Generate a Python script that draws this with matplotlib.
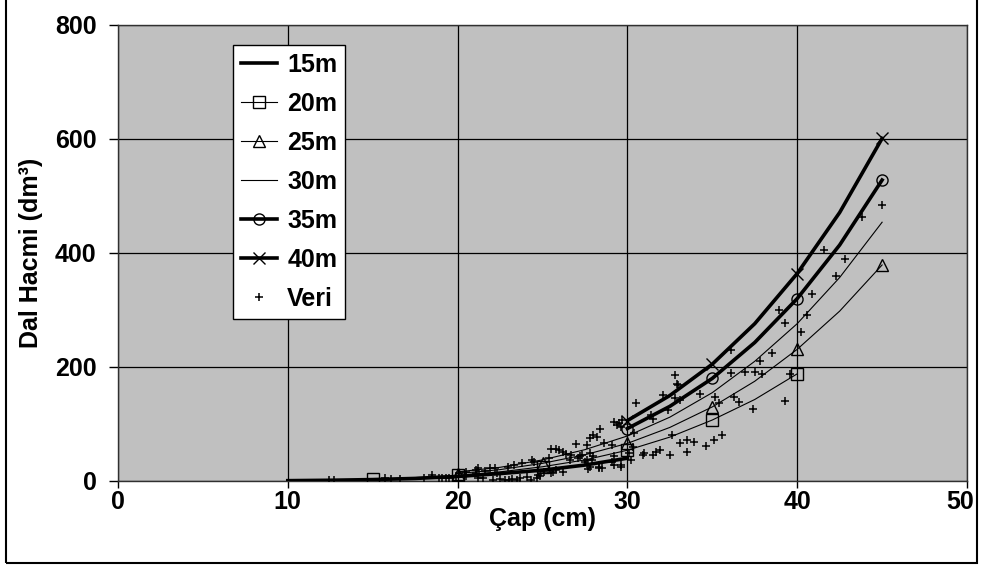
import matplotlib
matplotlib.use("Agg")
import matplotlib.pyplot as plt
from matplotlib.patches import Rectangle
from matplotlib.transforms import ScaledTranslation

plt.rcParams['font.family'] = ['Liberation Sans', 'DejaVu Sans']
plt.rcParams['font.weight'] = 'bold'

# Height curves (diameter cm -> branch volume dm3)
x_15 = [10, 12.5, 15, 17.5, 20, 22.5, 25, 27.5, 30]
y_15 = [0.6, 1.3, 2.5, 4.5, 8, 13, 19, 28, 40]

x_20 = [15, 17.5, 20, 22.5, 25, 27.5, 30, 32.5, 35, 37.5, 40]
y_20 = [3, 6, 10, 16, 25, 37, 54, 77, 107, 143, 188]

x_25 = [20, 22.5, 25, 27.5, 30, 32.5, 35, 37.5, 40, 42.5, 45]
y_25 = [13, 20, 31, 46, 66, 94, 130, 175, 231, 298, 379]

x_30 = [20, 22.5, 25, 27.5, 30, 32.5, 35, 37.5, 40, 42.5, 45]
y_30 = [16, 24, 37, 55, 79, 112, 155, 210, 276, 357, 454]

x_35 = [30, 32.5, 35, 37.5, 40, 42.5, 45]
y_35 = [92, 131, 180, 243, 320, 414, 528]

x_40 = [30, 32.5, 35, 37.5, 40, 42.5, 45]
y_40 = [106, 150, 205, 276, 364, 471, 601]

# Observed data ("Veri")
veri_x = [12.4, 12.7, 15.7, 16.1, 16.6, 18.0, 18.5, 18.9, 19.1, 19.3, 19.5, 19.9,
          20.1, 20.5, 20.5, 21.1, 21.1, 21.2, 21.2, 21.5, 21.6, 21.9, 22.1, 22.2,
          22.3, 22.5, 22.8, 22.95, 23.0, 23.2, 23.3, 23.5, 23.7, 23.8, 24.1, 24.3,
          24.4, 24.5, 24.7, 24.75, 24.85, 25.1, 25.4, 25.4, 25.5, 25.5, 25.6, 25.8,
          25.8, 26.0, 26.2, 26.2, 26.4, 26.6, 26.7, 27.0, 27.1, 27.2, 27.3, 27.5,
          27.6, 27.6, 27.7, 27.8, 27.8, 27.8, 27.9, 28.0, 28.0, 28.2, 28.3, 28.3,
          28.4, 28.5, 28.6, 29.1, 29.1, 29.2, 29.2, 29.2, 29.4, 29.5, 29.6, 29.6,
          29.7, 29.65, 30.2, 30.1, 30.35, 30.4, 30.5, 30.9, 31.0, 31.4, 31.5, 31.5,
          31.7, 31.9, 32.1, 32.4, 32.5, 32.6, 32.8, 32.8, 32.9, 33.0, 33.1, 33.1,
          33.5, 33.5, 33.9, 34.3, 34.6, 35.1, 35.55, 35.15, 35.4, 36.3, 36.6, 37.4,
          36.1, 36.1, 36.9, 37.5, 37.9, 37.8, 38.5, 38.9, 39.3, 39.3, 39.6, 40.2,
          40.6, 40.9, 41.6, 42.3, 42.8, 43.8, 45.0]
veri_y = [1.5, 1.5, 4.7, 3.5, 3.5, 4.7, 10.5, 6, 6, 6, 6, 7.5,
          13.5, 16, 8.8, 20, 13.5, 22, 5, 5, 18, 22, 2, 22,
          14.6, 3, 2, 24, 2, 3, 28, 2, 5, 31, 7.5, 2,
          37, 34, 5, 10.5, 9, 16, 19, 40, 13.5, 57, 16, 19,
          57, 54, 51, 16, 48, 37, 46, 65, 40, 43, 46, 34,
          37, 63, 20.5, 49, 75, 25, 37, 43, 81, 78, 25, 22,
          92, 22, 66, 63, 34, 104, 28, 43, 98, 101, 95, 28,
          107, 25, 37, 49, 60, 84, 137, 46, 49, 116, 108, 46,
          51, 54, 151, 125, 46, 81, 186, 145, 171, 168, 142, 66,
          72, 51, 69, 152, 62, 72, 81, 147, 136, 148, 138, 126,
          230, 190, 192, 192, 188, 210, 224, 300, 278, 141, 188, 261,
          292, 328, 406, 359, 390, 463, 484]

fig = plt.figure(figsize=(9.82, 5.69), dpi=100)
ax = fig.add_axes([118 / 982, 88 / 569, 849 / 982, 456 / 569])
ax.set_facecolor('#C0C0C0')

thick = 2.6
thin = 0.8
ms = 8
ax.plot(x_15, y_15, color='black', lw=thick, label='15m', zorder=3)
ax.plot(x_20, y_20, color='black', lw=thin, marker='s', ms=ms, mfc='none',
        mew=1, markevery=2, label='20m', zorder=3)
ax.plot(x_25, y_25, color='black', lw=thin, marker='^', ms=ms, mfc='none',
        mew=1, markevery=2, label='25m', zorder=3)
ax.plot(x_30, y_30, color='black', lw=thin, label='30m', zorder=3)
ax.plot(x_35, y_35, color='black', lw=thick, marker='o', ms=ms, mfc='none',
        mew=1, markevery=2, label='35m', zorder=3)
ax.plot(x_40, y_40, color='black', lw=thick, marker='x', ms=ms + 1,
        mew=1, markevery=2, label='40m', zorder=3)
ax.plot(veri_x, veri_y, ls='none', marker='+', ms=6, mew=1.1, color='black',
        label='Veri', zorder=4)

fs = 18
ax.set_xlim(0, 50)
ax.set_ylim(0, 800)
ax.set_xticks([0, 10, 20, 30, 40, 50])
ax.set_yticks([0, 200, 400, 600, 800])
ax.grid(True, color='black', lw=0.9)
ax.set_axisbelow(True)
for s in ax.spines.values():
    s.set_color('#303030')
    s.set_linewidth(1.0)
ax.tick_params(axis='x', length=5, width=1, pad=1.5, labelsize=fs)
ax.tick_params(axis='y', length=6.5, width=1, pad=9, labelsize=fs)

# last x label sits a bit inside the chart border
last = ax.get_xticklabels()[-1]
last.set_transform(last.get_transform() + ScaledTranslation(-7 / 100, 0, fig.dpi_scale_trans))

ax.set_xlabel('Çap (cm)', fontsize=fs, fontweight='bold')
ax.xaxis.set_label_coords(0.5, -0.056)
ax.set_ylabel('Dal Hacmi (dm³)', fontsize=fs, fontweight='bold')
ax.yaxis.set_label_coords(-0.088, 0.5)

leg = ax.legend(loc='upper left', bbox_to_anchor=(233 / 982, (569 - 45) / 569),
                bbox_transform=fig.transFigure, borderaxespad=0, fontsize=fs,
                frameon=True, fancybox=False, edgecolor='black', framealpha=1,
                handlelength=1.45, handletextpad=0.4, labelspacing=0.6,
                borderpad=0.32)
leg.get_frame().set_linewidth(1.0)
for t in leg.get_texts():
    t.set_fontweight('bold')

# outer chart border (top edge lies outside the picture)
fig.patches.append(Rectangle((6 / 982, 6 / 569), 971 / 982, 570 / 569,
                             transform=fig.transFigure, fill=False,
                             edgecolor='black', lw=1.5))

fig.savefig('out.png', dpi=100)
